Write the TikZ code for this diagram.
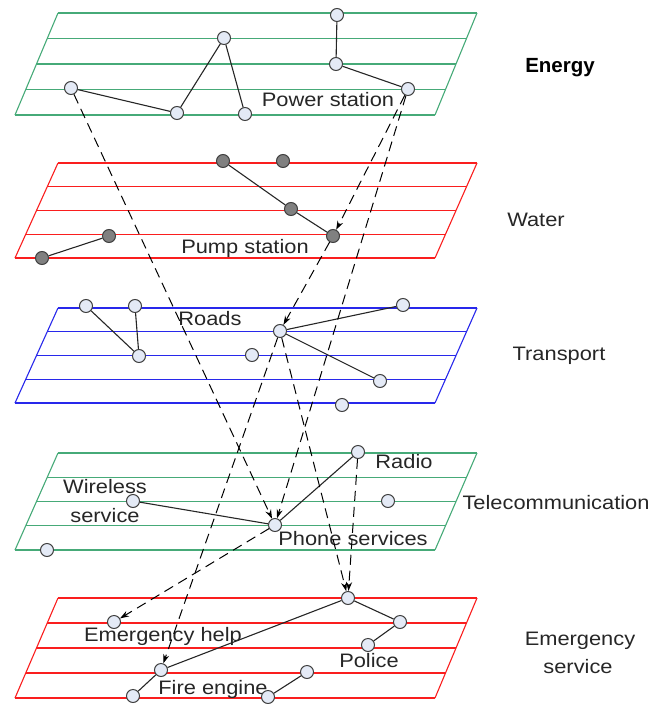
\documentclass[tikz,border=0pt]{standalone}
\usepackage{fontspec}
\usepackage{graphicx}
\setmainfont[FakeStretch=1.12]{Liberation Sans}
\newfontfamily\headfont{Liberation Sans}
\usetikzlibrary{arrows.meta}

\definecolor{plgreen}{RGB}{70,170,120}
\definecolor{plred}{RGB}{250,30,30}
\definecolor{plblue}{RGB}{40,40,235}
\definecolor{nodefill}{RGB}{228,234,246}
\definecolor{pumpfill}{RGB}{128,128,128}

% one infrastructure plane: top y, bottom y, colour
\newcommand\drawplane[3]{%
  \foreach \t in {0,0.25,0.5,0.75,1}{
    \draw[#3, line width=1.1pt] ({58-43*\t},{#1+(#2-#1)*\t}) -- ({477-42*\t},{#1+(#2-#1)*\t});
  }
  \draw[#3, line width=1.1pt] (58,#1) -- (15,#2) (477,#1) -- (435,#2);
}

\tikzset{
  hub/.style={circle, draw=black!75, fill=nodefill, line width=1pt,
              minimum size=13pt, inner sep=0pt},
  pump/.style={hub, fill=pumpfill},
  link/.style={line width=1.1pt, draw=black!85},
  dep/.style={line width=1pt, draw=black, dash pattern=on 10pt off 6pt,
              -{Stealth[length=9pt,width=6pt]}},
  lbl/.style={font=\fontsize{19.5}{23}\selectfont, anchor=base, inner sep=0pt,
              text=black!85},
}

\begin{document}
\begin{tikzpicture}[x=1pt, y=-1pt]
\useasboundingbox (0,0) rectangle (655,704);

% planes
\drawplane{13}{115}{plgreen}
\drawplane{163}{258}{plred}
\drawplane{308}{403}{plblue}
\drawplane{453}{550}{plgreen}
\drawplane{598}{698}{plred}

% layer names
\node[lbl, font=\headfont\bfseries\fontsize{20.5}{24}\selectfont, text=black] (nEnergy) at (560,72) {Energy};
\node[lbl] (nWater) at (536,226) {Water};
\node[lbl] (nTransport) at (559,360) {Transport};
\node[lbl] (nTelecom) at (556,509) {Telecommunication};
\node[lbl] (nEmerg1) at (580,645) {Emergency};
\node[lbl] (nEmerg2) at (578,673) {service};

% component labels
\node[lbl] (lPower) at (328,106) {Power station};
\node[lbl] (lPump) at (245,253) {Pump station};
\node[lbl] (lRoads) at (210,325) {Roads};
\node[lbl] (lRadio) at (404,468) {Radio};
\node[lbl] (lWire1) at (105,493) {Wireless};
\node[lbl] (lWire2) at (105,522) {service};
\node[lbl] (lPhone) at (353,545) {Phone services};
\node[lbl] (lHelp) at (163,641) {Emergency help};
\node[lbl] (lPolice) at (369,667) {Police};
\node[lbl] (lFire) at (213,694) {Fire engine};

% energy network
\node[hub] (E1) at (337,15) {};
\node[hub] (E2) at (336,64) {};
\node[hub] (E3) at (408,89) {};
\node[hub] (E4) at (224,38) {};
\node[hub] (E5) at (177,113) {};
\node[hub] (E6) at (245,114) {};
\node[hub] (E7) at (71,88) {};

% water network
\node[pump] (W1) at (223,161) {};
\node[pump] (W2) at (283,161) {};
\node[pump] (W3) at (291,209) {};
\node[pump] (W4) at (333,236) {};
\node[pump] (W5) at (109,236) {};
\node[pump] (W6) at (42,258) {};

% transport network
\node[hub] (T1) at (86,306) {};
\node[hub] (T2) at (135,306) {};
\node[hub] (T3) at (139,356) {};
\node[hub] (T4) at (280,331) {};
\node[hub] (T5) at (403,305) {};
\node[hub] (T6) at (252,355) {};
\node[hub] (T7) at (380,381) {};
\node[hub] (T8) at (342,405) {};

% telecommunication network
\node[hub] (C1) at (358,452) {};
\node[hub] (C2) at (133,501) {};
\node[hub] (C3) at (275,525) {};
\node[hub] (C4) at (388,501) {};
\node[hub] (C5) at (47,550) {};

% emergency service network
\node[hub] (S1) at (348,598) {};
\node[hub] (S2) at (400,622) {};
\node[hub] (S3) at (368,645) {};
\node[hub] (S4) at (114,622) {};
\node[hub] (S5) at (161,670) {};
\node[hub] (S6) at (133,696) {};
\node[hub] (S7) at (307,672) {};
\node[hub] (S8) at (268,697) {};

% links within each plane
\draw[link] (E1) -- (E2);
\draw[link] (E2) -- (E3);
\draw[link] (E4) -- (E5);
\draw[link] (E4) -- (E6);
\draw[link] (E7) -- (E5);
\draw[link] (W1) -- (W3);
\draw[link] (W3) -- (W4);
\draw[link] (W5) -- (W6);
\draw[link] (T1) -- (T3);
\draw[link] (T2) -- (T3);
\draw[link] (T4) -- (T5);
\draw[link] (T4) -- (T7);
\draw[link] (C2) -- (C3);
\draw[link] (C3) -- (C1);
\draw[link] (S1) -- (S2);
\draw[link] (S2) -- (S3);
\draw[link] (S1) -- (S5);
\draw[link] (S5) -- (S6);
\draw[link] (S7) -- (S8);

% dependencies between planes
\draw[dep] (E7) -- (C3);
\draw[dep] (E3) -- (W4);
\draw[dep] (E3) -- (C3);
\draw[dep] (W4) -- (T4);
\draw[dep] (T4) -- (S5);
\draw[dep] (T4) -- (S1);
\draw[dep] (C1) -- (S1);
\draw[dep] (C3) -- (S4);
\end{tikzpicture}
\end{document}
